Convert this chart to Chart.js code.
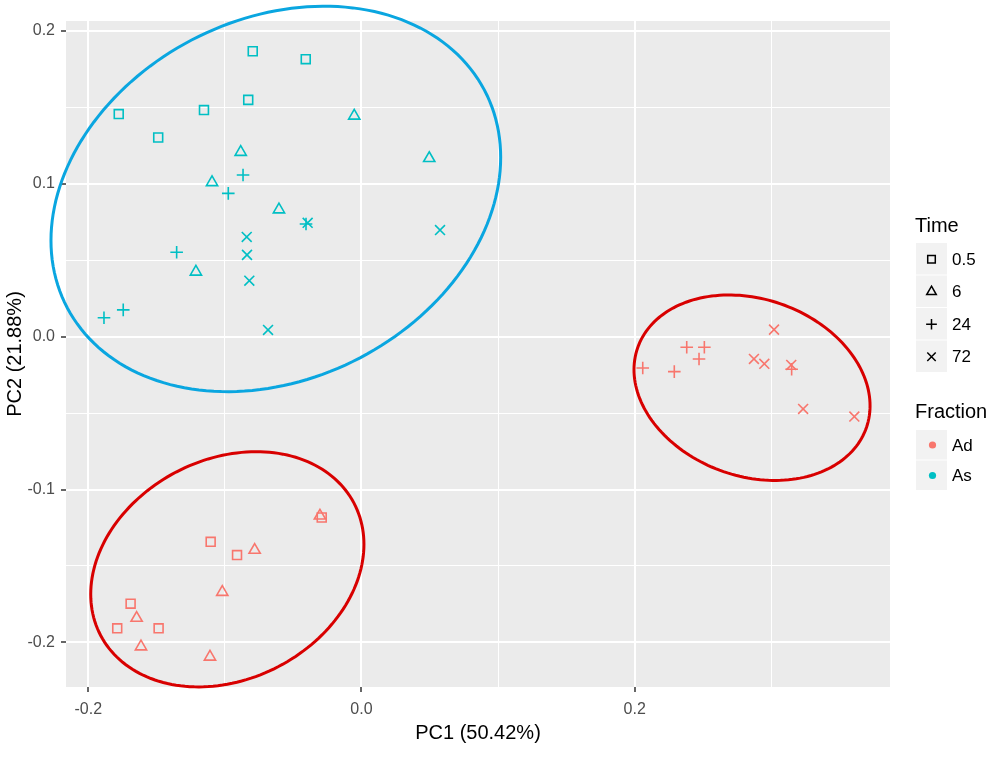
<!DOCTYPE html>
<html>
<head>
<meta charset="utf-8">
<script src="https://cdn.jsdelivr.net/npm/chart.js@4/dist/chart.umd.min.js"></script>
<style>
  html, body { margin: 0; padding: 0; background: #fff; }
  #wrap { width: 1000px; height: 763px; }
</style>
</head>
<body>
<div id="wrap"><canvas id="pcachart" width="1000" height="763"></canvas></div>
<script>
// legend levels
var timeLevels = ['0.5', '6', '24', '72'];
var fractionLevels = ['Ad', 'As'];

// PC1 / PC2 scores, one pair per Fraction x Time
var adPC1_05 = [-0.0291, -0.1104, -0.0911, -0.1690, -0.1788, -0.1485];
var adPC2_05 = [-0.1183, -0.1342, -0.1429, -0.1747, -0.1908, -0.1908];
var adPC1_6  = [-0.0304, -0.0782, -0.1019, -0.1646, -0.1614, -0.1109];
var adPC2_6  = [-0.1172, -0.1396, -0.1671, -0.1841, -0.2028, -0.2095];
var adPC1_24 = [0.2059, 0.2290, 0.2381, 0.2510, 0.2471, 0.3149];
var adPC2_24 = [-0.0205, -0.0229, -0.0069, -0.0069, -0.0146, -0.0213];
var adPC1_72 = [0.3020, 0.2873, 0.2949, 0.3146, 0.3233, 0.3608];
var adPC2_72 = [0.0046, -0.0146, -0.0178, -0.0185, -0.0473, -0.0523];

var asPC1_05 = [-0.0796, -0.0408, -0.0829, -0.1777, -0.1153, -0.1488];
var asPC2_05 = [0.1867, 0.1815, 0.1549, 0.1456, 0.1482, 0.1303];
var asPC1_6  = [-0.0053, 0.0496, -0.0884, -0.1094, -0.0604, -0.1212];
var asPC2_6  = [0.1444, 0.1167, 0.1207, 0.1009, 0.0831, 0.0424];
var asPC1_24 = [-0.0867, -0.0975, -0.1353, -0.1744, -0.1885, -0.0406];
var asPC2_24 = [0.1058, 0.0937, 0.0552, 0.0175, 0.0124, 0.0737];
var asPC1_72 = [-0.0394, 0.0575, -0.0840, -0.0838, -0.0821, -0.0684];
var asPC2_72 = [0.0745, 0.0697, 0.0652, 0.0535, 0.0366, 0.0044];

// confidence ellipses (data units): centre and two conjugate half-diameters
var ellipseCX = [-0.0627, -0.0982, 0.2859];
var ellipseCY = [0.0901, -0.1522, -0.0334];
var ellipseAX = [0.1646, 0.1000, 0.0864];
var ellipseAY = [0.0272, 0.0163, -0.0118];
var ellipseBY = [0.1231, 0.0752, 0.0595];

// axis ticks
var xTicks = [-0.2, -0.1, 0.0, 0.1, 0.2, 0.3];
var xTickLabels = ['-0.2', '', '0.0', '', '0.2', ''];
var yTicks = [-0.2, -0.15, -0.1, -0.05, 0.0, 0.05, 0.1, 0.15, 0.2];
var yTickLabels = ['-0.2', '', '-0.1', '', '0.0', '', '0.1', '', '0.2'];

var fractionColors = { Ad: '#F8766D', As: '#00BFC4' };
var ellipseColors = ['#0aa6e0', '#d80000', '#d80000'];
var timeShapes = { '0.5': 'rect', '6': 'triangle', '24': 'cross', '72': 'crossRot' };
var shapeRadius = { rect: 6.3, triangle: 6.5, cross: 6.3, crossRot: 7 };

function pairs(xs, ys) {
  return xs.map(function (v, i) { return { x: v, y: ys[i] }; });
}

var series = {
  Ad: { '0.5': pairs(adPC1_05, adPC2_05), '6': pairs(adPC1_6, adPC2_6),
        '24': pairs(adPC1_24, adPC2_24), '72': pairs(adPC1_72, adPC2_72) },
  As: { '0.5': pairs(asPC1_05, asPC2_05), '6': pairs(asPC1_6, asPC2_6),
        '24': pairs(asPC1_24, asPC2_24), '72': pairs(asPC1_72, asPC2_72) }
};

var datasets = [];
fractionLevels.forEach(function (f) {
  timeLevels.forEach(function (t) {
    var shape = timeShapes[t];
    datasets.push({
      label: f + ' ' + t,
      data: series[f][t],
      pointStyle: shape,
      pointRadius: shapeRadius[shape],
      pointHoverRadius: shapeRadius[shape],
      borderColor: fractionColors[f],
      backgroundColor: 'rgba(0,0,0,0)',
      borderWidth: 1.6
    });
  });
});

var FONT = "'Liberation Sans', Arial, sans-serif";
Chart.defaults.font.family = FONT;

function tickList(values) {
  return function (scale) {
    scale.ticks = values.map(function (v) { return { value: v }; });
  };
}
function labelFrom(values, labels) {
  return function (value) {
    for (var i = 0; i < values.length; i++) {
      if (Math.abs(values[i] - value) < 1e-9) return labels[i];
    }
    return '';
  };
}
function isMajor(values, labels, value) {
  return labelFrom(values, labels)(value) !== '';
}

var panelBackground = {
  id: 'panelBackground',
  beforeDraw: function (chart) {
    var a = chart.chartArea, ctx = chart.ctx;
    ctx.save();
    ctx.fillStyle = '#ebebeb';
    ctx.fillRect(a.left, a.top, a.right - a.left, a.bottom - a.top);
    ctx.restore();
  }
};

var ellipses = {
  id: 'ellipses',
  afterDatasetsDraw: function (chart) {
    var xs = chart.scales.x, ys = chart.scales.y, ctx = chart.ctx;
    ctx.save();
    ctx.lineWidth = 3;
    for (var i = 0; i < ellipseCX.length; i++) {
      ctx.beginPath();
      for (var k = 0; k <= 180; k++) {
        var t = k / 180 * 2 * Math.PI;
        var vx = ellipseCX[i] + ellipseAX[i] * Math.cos(t);
        var vy = ellipseCY[i] + ellipseAY[i] * Math.cos(t) + ellipseBY[i] * Math.sin(t);
        var px = xs.getPixelForValue(vx), py = ys.getPixelForValue(vy);
        if (k === 0) ctx.moveTo(px, py); else ctx.lineTo(px, py);
      }
      ctx.closePath();
      ctx.strokeStyle = ellipseColors[i];
      ctx.stroke();
    }
    ctx.restore();
  }
};

var sideLegend = {
  id: 'sideLegend',
  afterDraw: function (chart) {
    var ctx = chart.ctx;
    var left = 916, keyW = 31, keyH = 32.5;
    ctx.save();
    ctx.textBaseline = 'middle';
    ctx.textAlign = 'left';

    ctx.fillStyle = '#000';
    ctx.font = '20px ' + FONT;
    ctx.fillText('Time', left - 1, 226);
    var top = 243;
    timeLevels.forEach(function (t, i) {
      var y = top + i * keyH;
      ctx.fillStyle = '#f2f2f2';
      ctx.fillRect(left, y, keyW, keyH - 1);
      ctx.strokeStyle = '#000';
      ctx.fillStyle = 'rgba(0,0,0,0)';
      ctx.lineWidth = 1.5;
      var shape = timeShapes[t];
      Chart.helpers.drawPoint(ctx, {
        pointStyle: shape, radius: shapeRadius[shape] * 0.85,
        rotation: 0, borderWidth: 1.5
      }, left + keyW / 2, y + keyH / 2);
      ctx.fillStyle = '#000';
      ctx.font = '17px ' + FONT;
      ctx.fillText(t, left + keyW + 5, y + keyH / 2 + 1);
    });

    ctx.font = '20px ' + FONT;
    ctx.fillText('Fraction', left - 1, 412);
    top = 430;
    fractionLevels.forEach(function (f, i) {
      var y = top + i * 30.5;
      ctx.fillStyle = '#f2f2f2';
      ctx.fillRect(left, y, keyW, 29.5);
      ctx.fillStyle = fractionColors[f];
      ctx.beginPath();
      ctx.arc(left + keyW / 2 + 1, y + 15, 3.6, 0, 2 * Math.PI);
      ctx.fill();
      ctx.fillStyle = '#000';
      ctx.font = '17px ' + FONT;
      ctx.fillText(f, left + keyW + 5, y + 16);
    });
    ctx.restore();
  }
};

var ctx = document.getElementById('pcachart').getContext('2d');
var chart = new Chart(ctx, {
  type: 'scatter',
  data: { datasets: datasets },
  plugins: [panelBackground, ellipses, sideLegend],
  options: {
    responsive: false,
    animation: false,
    layout: { padding: { left: 0, top: 21, right: 110, bottom: 0 } },
    plugins: {
      legend: { display: false },
      tooltip: { enabled: false }
    },
    scales: {
      x: {
        type: 'linear',
        min: -0.2163,
        max: 0.3869,
        afterBuildTicks: tickList(xTicks),
        afterFit: function (scale) { scale.height = 76; },
        border: { display: false },
        grid: {
          color: '#ffffff',
          lineWidth: function (c) { return c.tick && isMajor(xTicks, xTickLabels, c.tick.value) ? 2 : 1; },
          tickColor: function (c) { return c.tick && isMajor(xTicks, xTickLabels, c.tick.value) ? '#333333' : 'rgba(0,0,0,0)'; },
          tickWidth: 1.5,
          tickLength: 5,
          drawTicks: true
        },
        ticks: {
          autoSkip: false,
          maxRotation: 0,
          padding: 8,
          color: '#4d4d4d',
          font: { size: 16 },
          callback: labelFrom(xTicks, xTickLabels)
        },
        title: {
          display: true,
          text: 'PC1 (50.42%)',
          color: '#000',
          font: { size: 20 },
          padding: { top: 0, bottom: 18 }
        }
      },
      y: {
        type: 'linear',
        min: -0.2292,
        max: 0.2065,
        afterBuildTicks: tickList(yTicks),
        afterFit: function (scale) { scale.width = 66; },
        border: { display: false },
        grid: {
          color: '#ffffff',
          lineWidth: function (c) { return c.tick && isMajor(yTicks, yTickLabels, c.tick.value) ? 2 : 1; },
          tickColor: function (c) { return c.tick && isMajor(yTicks, yTickLabels, c.tick.value) ? '#333333' : 'rgba(0,0,0,0)'; },
          tickWidth: 1.5,
          tickLength: 5,
          drawTicks: true
        },
        ticks: {
          autoSkip: false,
          padding: 6,
          color: '#4d4d4d',
          font: { size: 16 },
          callback: labelFrom(yTicks, yTickLabels)
        },
        title: {
          display: true,
          text: 'PC2 (21.88%)',
          color: '#000',
          font: { size: 20 },
          padding: { top: 3, bottom: 0 }
        }
      }
    }
  }
});
</script>
</body>
</html>
